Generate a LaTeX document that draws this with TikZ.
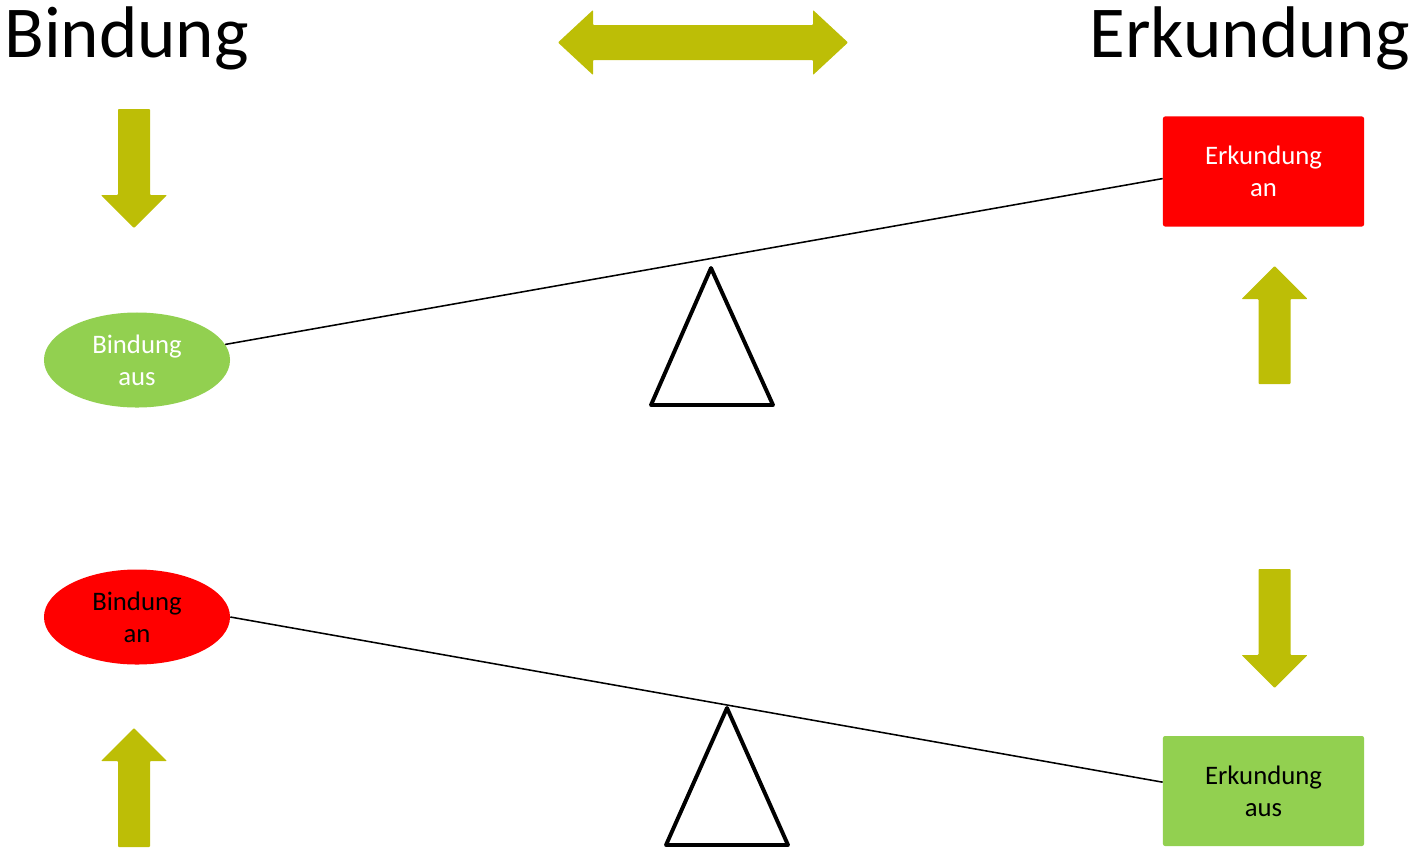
\documentclass[tikz,border=0pt]{standalone}
\usepackage{fontspec}
\setmainfont{Carlito}
\usetikzlibrary{shapes.geometric}
\definecolor{arrowolive}{RGB}{189,190,6}
\definecolor{leafgreen}{RGB}{146,208,80}
\definecolor{signalred}{RGB}{255,0,0}
\begin{document}
\begin{tikzpicture}[x=0.025cm, y=-0.025cm,
% common options for the state nodes:
state/.style = {align=center, inner sep=0, font=\fontsize{19}{23}\selectfont},
oval/.style = {state, ellipse, minimum width=4.65cm, minimum height=2.375cm},
box/.style = {state, rectangle, rounded corners=1.5pt, minimum width=5.025cm, minimum height=2.75cm},
title/.style = {inner sep=0, font=\fontsize{52}{60}\selectfont},
% thick arrows and the seesaw:
fatarrow/.style = {fill=arrowolive, rounded corners=0.6pt},
beam/.style = {line width=1.1pt},
pivot/.style = {line width=2.8pt, line join=round}]
\useasboundingbox (0,0) rectangle (1414,851);
\node[title, anchor=base west] (tbind) at (4,57) {Bindung};
\node[title, anchor=base east] (terk) at (1410,57) {Erkundung};
\fill[fatarrow] (558,42.5) -- (593,10) -- (593,25) -- (813,25) -- (813,10) -- (848,42.5)
  -- (813,75) -- (813,60) -- (593,60) -- (593,75) -- cycle;
% single arrows: centre x / shaft end / head base / tip
\foreach \cx/\ys/\yh/\yt in {134/109/195/228, 1274.5/384/299/266, 134/847/761/728, 1274.5/569/655/688}
  \fill[fatarrow] (\cx-16,\ys) -- (\cx+16,\ys) -- (\cx+16,\yh) -- (\cx+33,\yh) -- (\cx,\yt)
    -- (\cx-33,\yh) -- (\cx-16,\yh) -- cycle;
% upper seesaw
\node[oval, fill=leafgreen, text=white] (baus) at (137,360) {Bindung\\aus};
\node[box, fill=signalred, text=white] (ean) at (1263.5,171.5) {Erkundung\\an};
\draw[beam] (baus.10) -- (ean.184);
\draw[pivot] (711,268) -- (773,405) -- (651,405) -- cycle;
% lower seesaw
\node[oval, fill=signalred] (ban) at (137,617) {Bindung\\an};
\node[box, fill=leafgreen] (eaus) at (1263.5,791) {Erkundung\\aus};
\draw[beam] (ban.east) -- (eaus.175.5);
\draw[pivot] (727,708) -- (788,845) -- (666,845) -- cycle;
\end{tikzpicture}
\end{document}
